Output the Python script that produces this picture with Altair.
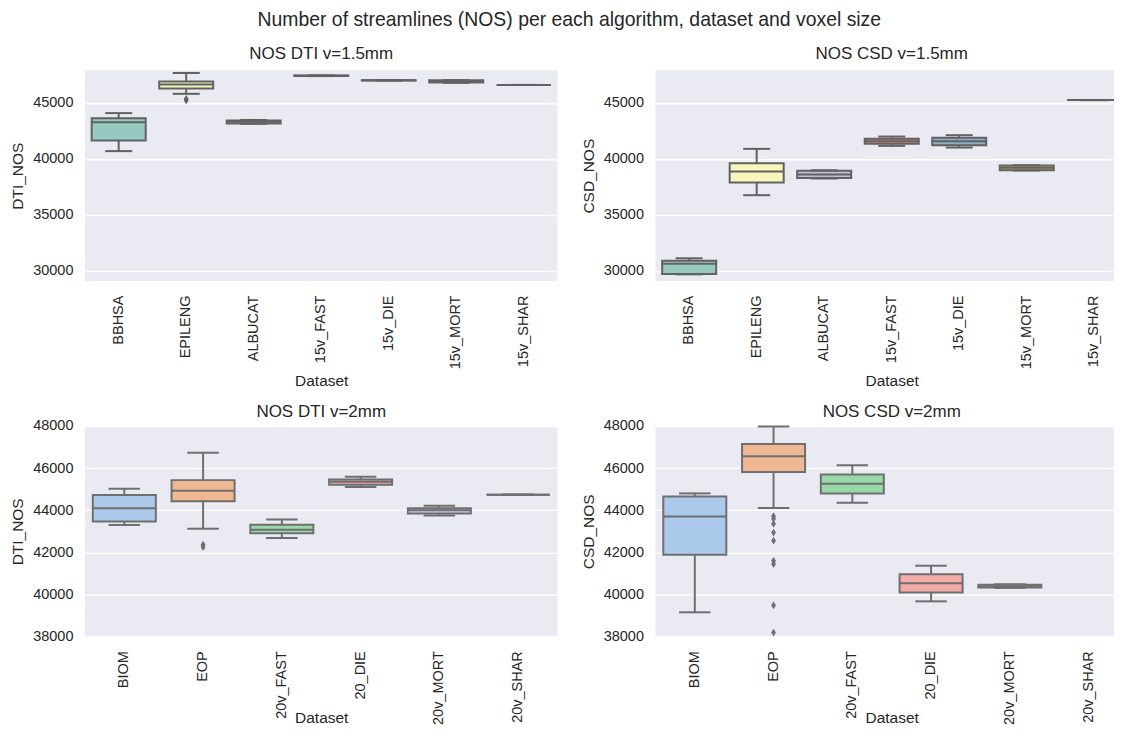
import altair as alt
import pandas as pd

# ---------------- data ----------------
cats15 = ["BBHSA", "EPILENG", "ALBUCAT", "15v_FAST", "15v_DIE", "15v_MORT", "15v_SHAR"]
cats20 = ["BIOM", "EOP", "20v_FAST", "20_DIE", "20v_MORT", "20v_SHAR"]

# DTI v=1.5mm
dti15_lo = [40690, 45800, 43120, 47380, 46980, 46780, 46590]
dti15_q1 = [41630, 46280, 43160, 47395, 46990, 46800, 46590]
dti15_med = [43260, 46630, 43300, 47410, 47000, 46900, 46590]
dti15_q3 = [43615, 46900, 43430, 47425, 47010, 47000, 46590]
dti15_hi = [44080, 47660, 43470, 47440, 47020, 47020, 46590]
dti15_out_cat = ["EPILENG", "EPILENG"]
dti15_out_val = [45350, 45220]

# CSD v=1.5mm
csd15_lo = [29700, 36760, 38240, 41160, 41010, 38960, 45240]
csd15_q1 = [29730, 37890, 38300, 41340, 41220, 38990, 45240]
csd15_med = [30650, 38870, 38600, 41580, 41580, 39200, 45240]
csd15_q3 = [30920, 39610, 38950, 41790, 41880, 39400, 45240]
csd15_hi = [31130, 40890, 38990, 41990, 42110, 39430, 45240]
csd15_out_cat = []
csd15_out_val = []

# DTI v=2mm
dti2_lo = [43300, 43125, 42690, 45100, 43750, 44740]
dti2_q1 = [43470, 44430, 42905, 45210, 43845, 44740]
dti2_med = [44100, 44930, 43080, 45350, 44000, 44740]
dti2_q3 = [44720, 45430, 43310, 45460, 44100, 44740]
dti2_hi = [45020, 46730, 43560, 45590, 44220, 44740]
dti2_out_cat = ["EOP", "EOP"]
dti2_out_val = [42370, 42250]

# CSD v=2mm (no data drawn for 20v_SHAR)
csd2_cats = ["BIOM", "EOP", "20v_FAST", "20_DIE", "20v_MORT"]
csd2_lo = [39160, 44110, 44360, 39680, 40320]
csd2_q1 = [41890, 45810, 44790, 40100, 40340]
csd2_med = [43700, 46560, 45260, 40540, 40400]
csd2_q3 = [44650, 47140, 45700, 40960, 40470]
csd2_hi = [44800, 47970, 46140, 41370, 40490]
csd2_out_cat = ["EOP"] * 9
csd2_out_val = [43720, 43600, 43360, 42940, 42560, 41600, 41450, 39490, 38200]

# seaborn Set3 / pastel at saturation 0.75
set3_fill = ["#96cac1", "#f6f6bd", "#c1bed6", "#ea8e83", "#8bafc9", "#eab375", "#afcf78"]
pastel_fill = ["#abc9ea", "#efb792", "#98daa7", "#f3aba8", "#d3c4f7", "#d6bba3"]
set3_edge = "#626262"
pastel_edge = "#6f6f6f"

top_domain = [29100, 47900]
top_ticks = [30000, 35000, 40000, 45000]
bot_domain = [38000, 48000]
bot_ticks = [38000, 40000, 42000, 44000, 46000, 48000]

PW, PH = 473, 211
TXT = "#262626"
FONT = "Liberation Sans"
DIAMOND = "M0,-1L0.62,0L0,1L-0.62,0Z"


def panel(all_cats, cats, lo, q1, med, q3, hi, out_cat, out_val, colors, edge,
          title, ytitle, domain, ticks, xtitle_pad, title_offset):
    fills = [colors[all_cats.index(c)] for c in cats]
    df = pd.DataFrame({"Dataset": cats, "lo": lo, "q1": q1, "med": med, "q3": q3,
                       "hi": hi, "fill": fills})
    dfo = pd.DataFrame({"Dataset": out_cat, "v": out_val})
    band = PW / len(all_cats)
    bw = band * 0.8
    x = alt.X("Dataset:N", sort=all_cats,
              scale=alt.Scale(domain=all_cats, paddingInner=0, paddingOuter=0),
              axis=alt.Axis(title="Dataset", labelAngle=270, grid=False, domain=False,
                            ticks=False, labelPadding=14, titlePadding=xtitle_pad))
    ys = alt.Scale(domain=domain, nice=False, zero=False)
    yax = alt.Axis(title=ytitle, values=ticks, format="d", grid=True, domain=False,
                   ticks=False, labelPadding=12, titlePadding=7)
    base = alt.Chart(df)
    whisk = base.mark_rule(color=edge, strokeWidth=2).encode(
        x=x, y=alt.Y("lo:Q", scale=ys, axis=yax), y2="hi:Q")
    box = base.mark_bar(size=bw, stroke=edge, strokeWidth=2).encode(
        x=x, y=alt.Y("q1:Q", scale=ys), y2="q3:Q",
        fill=alt.Fill("fill:N", scale=None, legend=None))
    medl = base.mark_tick(size=bw, thickness=2, color=edge, opacity=1).encode(
        x=x, y=alt.Y("med:Q", scale=ys))
    cap_lo = base.mark_tick(size=bw / 2, thickness=2, color=edge, opacity=1).encode(
        x=x, y=alt.Y("lo:Q", scale=ys))
    cap_hi = base.mark_tick(size=bw / 2, thickness=2, color=edge, opacity=1).encode(
        x=x, y=alt.Y("hi:Q", scale=ys))
    layers = [whisk, box, medl, cap_lo, cap_hi]
    if len(dfo):
        pts = alt.Chart(dfo).mark_point(shape=DIAMOND, filled=True, size=60, color=edge,
                                        opacity=1, clip=True).encode(
            x=x, y=alt.Y("v:Q", scale=ys))
        layers.append(pts)
    return alt.layer(*layers).properties(
        width=PW, height=PH,
        title=alt.TitleParams(title, fontSize=17, font=FONT, color=TXT,
                              fontWeight="normal", offset=title_offset))


p1 = panel(cats15, cats15, dti15_lo, dti15_q1, dti15_med, dti15_q3, dti15_hi,
           dti15_out_cat, dti15_out_val, set3_fill, set3_edge,
           "NOS DTI v=1.5mm", "DTI_NOS", top_domain, top_ticks, 5, 7)
p2 = panel(cats15, cats15, csd15_lo, csd15_q1, csd15_med, csd15_q3, csd15_hi,
           csd15_out_cat, csd15_out_val, set3_fill, set3_edge,
           "NOS CSD v=1.5mm", "CSD_NOS", top_domain, top_ticks, 5, 7)
p3 = panel(cats20, cats20, dti2_lo, dti2_q1, dti2_med, dti2_q3, dti2_hi,
           dti2_out_cat, dti2_out_val, pastel_fill, pastel_edge,
           "NOS DTI v=2mm", "DTI_NOS", bot_domain, bot_ticks, -14, -3)
p4 = panel(cats20, csd2_cats, csd2_lo, csd2_q1, csd2_med, csd2_q3, csd2_hi,
           csd2_out_cat, csd2_out_val, pastel_fill, pastel_edge,
           "NOS CSD v=2mm", "CSD_NOS", bot_domain, bot_ticks, -14, -3)

row1 = alt.hconcat(p1, p2, spacing=23)
row2 = alt.hconcat(p3, p4, spacing=23)

chart = alt.vconcat(row1, row2, spacing=13).properties(
    title=alt.TitleParams("Number of streamlines (NOS) per each algorithm, dataset and voxel size",
                          fontSize=19.4, font=FONT, color=TXT, fontWeight="normal",
                          anchor="middle", offset=15),
    padding={"left": 2, "top": 1, "right": -14, "bottom": 0},
    background="white",
).configure_view(
    fill="#EAEAF2", strokeWidth=0
).configure_axis(
    labelFont=FONT, titleFont=FONT, labelFontSize=14.5, titleFontSize=15.5,
    labelColor=TXT, titleColor=TXT, titleFontWeight="normal",
    gridColor="white", gridWidth=1.4
)

chart.save("out.html", embed_options={"renderer": "svg", "actions": False})
